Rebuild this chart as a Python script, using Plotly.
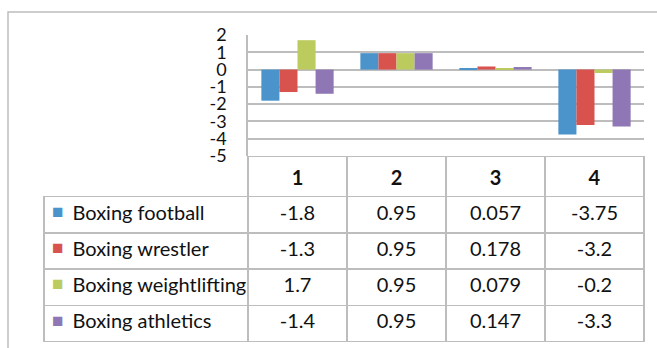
import plotly.graph_objects as go

# Data
categories = ["1", "2", "3", "4"]
series_names = ["Boxing football", "Boxing wrestler", "Boxing weightlifting", "Boxing athletics"]
boxing_football = [-1.8, 0.95, 0.057, -3.75]
boxing_wrestler = [-1.3, 0.95, 0.178, -3.2]
boxing_weightlifting = [1.7, 0.95, 0.079, -0.2]
boxing_athletics = [-1.4, 0.95, 0.147, -3.3]
series_values = [boxing_football, boxing_wrestler, boxing_weightlifting, boxing_athletics]
colors = ["#4A93CB", "#D9534E", "#BBCB5E", "#8E77B4"]
y_ticks = [2, 1, 0, -1, -2, -3, -4, -5]

W, H = 657, 348
GRID = "#BDBDBD"
FONT = "Lato"
CLEAR = "rgba(0,0,0,0)"
NBSP = "\u00a0"

HEADER_H = 39
ROW_H = 36.3
TABLE_X = [44 / W, 644 / W]
TABLE_Y = [0, 1 - 156.5 / H]

fig = go.Figure()

for name, vals, col in zip(series_names, series_values, colors):
    fig.add_trace(go.Bar(
        x=categories, y=vals, name=name,
        marker=dict(color=col, line=dict(width=0)),
        showlegend=False,
    ))

# Data table beneath the chart: header row holds the categories,
# body rows hold the series. Labels use non-breaking spaces (no wrapping)
# and are indented to leave room for the colour key.
label_cells = [NBSP * 4 + n.replace(" ", NBSP) for n in series_names]
value_cols = [[f"{series_values[s][k]:g}" for s in range(4)] for k in range(4)]

fig.add_trace(go.Table(
    domain=dict(x=TABLE_X, y=TABLE_Y),
    columnwidth=[204, 99, 99, 99, 99],
    header=dict(
        values=[""] + [f"<b>{c}</b>" for c in categories],
        height=HEADER_H,
        align="center",
        fill=dict(color=[CLEAR] + ["white"] * 4),
        line=dict(color=[CLEAR] + [GRID] * 4, width=1.5),
        font=dict(family=FONT, size=20, color="#111111"),
    ),
    cells=dict(
        values=[label_cells] + value_cols,
        height=ROW_H,
        align=["left", "center", "center", "center", "center"],
        fill=dict(color="white"),
        line=dict(color=GRID, width=1.5),
        font=dict(family=FONT, size=20, color="#111111"),
    ),
))

# Colour key: a borderless overlay table holding one square per series,
# coloured per cell, sitting in the label column.
fig.add_trace(go.Table(
    domain=dict(x=TABLE_X, y=TABLE_Y),
    columnwidth=[204, 396],
    header=dict(
        values=["", ""],
        height=HEADER_H,
        fill=dict(color=CLEAR),
        line=dict(color=CLEAR, width=0),
        font=dict(family=FONT, size=20, color=CLEAR),
    ),
    cells=dict(
        values=[["■"] * 4, [""] * 4],
        height=ROW_H,
        align="left",
        fill=dict(color=CLEAR),
        line=dict(color=CLEAR, width=0),
        font=dict(family=FONT, size=19, color=[colors, [CLEAR] * 4]),
    ),
))

fig.update_layout(
    width=W, height=H,
    margin=dict(l=0, r=0, t=0, b=0, autoexpand=False),
    paper_bgcolor="white",
    plot_bgcolor="white",
    barmode="group",
    bargap=0.27,
    bargroupgap=0,
    xaxis=dict(
        domain=[248 / W, 644 / W],
        range=[-0.5, 3.5],
        showticklabels=False,
        showgrid=False,
        zeroline=False,
        showline=False,
        ticks="",
        automargin=False,
    ),
    yaxis=dict(
        domain=[1 - 156 / H, 1 - 35 / H],
        range=[-5, 2],
        tickvals=y_ticks,
        ticktext=[str(t) for t in y_ticks],
        showgrid=True,
        gridcolor=GRID,
        gridwidth=1.5,
        zeroline=False,
        showline=True,
        linecolor=GRID,
        linewidth=1.5,
        ticks="",
        ticklabelstandoff=16,
        automargin=False,
        tickfont=dict(family=FONT, size=18, color="#111111"),
    ),
    shapes=[
        dict(type="rect", xref="paper", yref="paper",
             x0=8 / W, x1=1.1, y0=-0.1, y1=1 - 12 / H,
             line=dict(color=GRID, width=1.5), fillcolor=CLEAR,
             layer="below"),
    ],
)

fig.write_html("out.html")
